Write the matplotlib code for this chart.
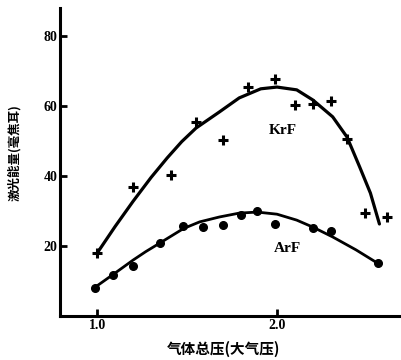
import matplotlib
matplotlib.use("Agg")
import matplotlib.pyplot as plt

plt.rcParams['font.family'] = ['Noto Sans CJK SC', 'DejaVu Sans']

# KrF measured points (pressure in atm, energy in mJ)
krf_p = [1.0, 1.2, 1.41, 1.55, 1.70, 1.84, 1.99, 2.10, 2.20, 2.30, 2.39, 2.49, 2.61]
krf_e = [18.0, 36.9, 40.3, 55.4, 50.3, 65.4, 67.7, 60.3, 60.5, 61.4, 50.6, 29.4, 28.3]
# KrF fitted curve
krf_fit_p = [1.0, 1.1, 1.2, 1.3, 1.39, 1.47, 1.55, 1.68, 1.79, 1.91, 2.0, 2.11,
             2.2, 2.31, 2.39, 2.46, 2.52, 2.57]
krf_fit_e = [18.0, 25.6, 32.8, 39.6, 45.2, 49.8, 53.7, 58.3, 62.3, 64.9, 65.4, 64.6,
             61.7, 56.9, 51.1, 42.6, 35.1, 26.3]

# ArF measured points
arf_p = [0.99, 1.09, 1.2, 1.35, 1.48, 1.59, 1.70, 1.80, 1.89, 1.99, 2.2, 2.3, 2.56]
arf_e = [8.0, 11.7, 14.3, 20.9, 25.7, 25.4, 26.0, 28.9, 30.0, 26.3, 25.1, 24.3, 15.1]
# ArF fitted curve
arf_fit_p = [0.99, 1.1, 1.2, 1.27, 1.35, 1.48, 1.57, 1.68, 1.79, 1.89, 2.0, 2.11,
             2.2, 2.31, 2.44, 2.56]
arf_fit_e = [8.3, 12.3, 16.0, 18.4, 20.9, 25.0, 26.9, 28.3, 29.4, 29.7, 29.1, 27.4,
             25.4, 22.6, 18.9, 15.1]

xticks = [1.0, 2.0]
yticks = [20, 40, 60, 80]

fig = plt.figure(figsize=(4.01, 3.6), dpi=100)
ax = fig.add_axes([0.15, 0.122, 0.85, 0.856])

ax.plot(krf_fit_p, krf_fit_e, color='black', lw=2.3, solid_capstyle='round',
        solid_joinstyle='round')
ax.plot(arf_fit_p, arf_fit_e, color='black', lw=2.0, solid_capstyle='round',
        solid_joinstyle='round')
ax.plot(krf_p, krf_e, ls='none', marker='+', ms=7.5, mew=2.2, color='black')
ax.plot(arf_p, arf_e, ls='none', marker='o', ms=5.5, color='black')

ax.text(2.03, 53, 'KrF', family='Liberation Serif', fontweight='bold',
        fontsize=11, ha='center', va='center')
ax.text(2.06, 19.4, 'ArF', family='Liberation Serif', fontweight='bold',
        fontsize=11, ha='center', va='center')

ax.set_xlim(0.794, 2.69)
ax.set_ylim(0, 88)
ax.set_xticks(xticks)
ax.set_xticklabels(['1.0', '2.0'])
ax.set_yticks(yticks)
for s in ['top', 'right']:
    ax.spines[s].set_visible(False)
for s in ['left', 'bottom']:
    ax.spines[s].set_linewidth(2.2)
ax.tick_params(direction='in', length=5, width=2, labelsize=10, pad=2)
for lab in ax.get_xticklabels() + ax.get_yticklabels():
    lab.set_family('Liberation Serif')
    lab.set_fontweight('bold')

ax.set_ylabel('激光能量(毫焦耳)', fontsize=9, fontweight='bold')
ax.yaxis.set_label_coords(-0.115, 0.53)
ax.set_xlabel('气体总压(大气压)', fontsize=10.5, fontweight='bold')
ax.xaxis.set_label_coords(0.48, -0.08)

fig.savefig('out.png', dpi=100)
